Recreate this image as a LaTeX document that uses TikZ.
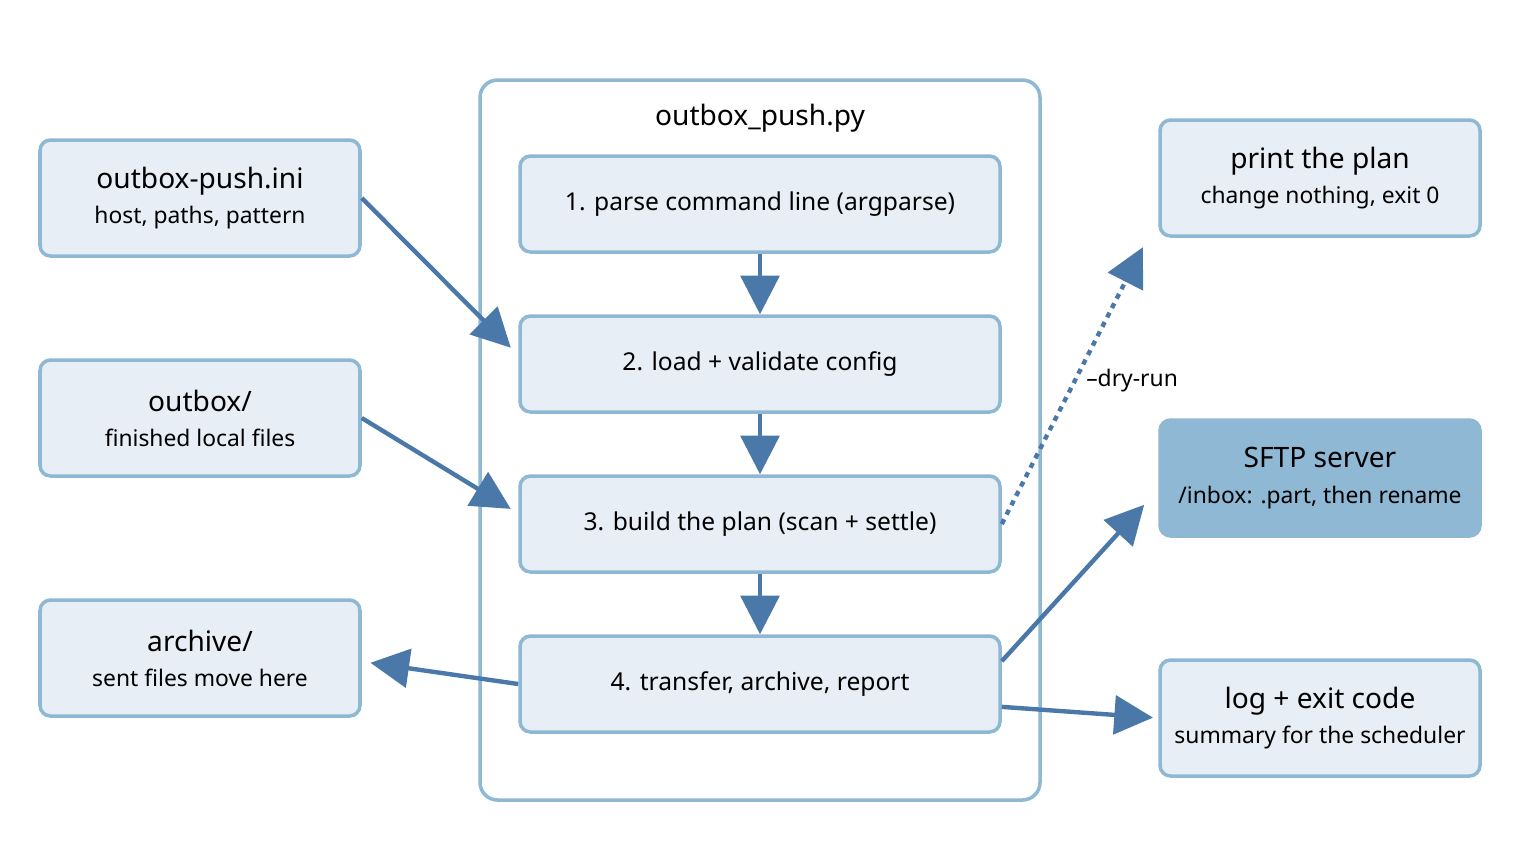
\documentclass[tikz,border=0pt]{standalone}
\usepackage{fontspec}
\setmainfont{Noto Sans}
\usepackage{tikz}
\usetikzlibrary{arrows.meta, positioning}

\definecolor{boxfill}{HTML}{E8EEF6}
\definecolor{boxline}{HTML}{8FB8D4}
\definecolor{arrowblue}{HTML}{4A78A8}

\tikzset{
  box/.style={draw=boxline, fill=boxfill, line width=2pt, rounded corners=6pt,
    minimum width=320*0.02cm, minimum height=116*0.02cm, align=center,
    font=\fontsize{13}{20}\selectfont},
  stepbox/.style={box, minimum width=480*0.02cm, minimum height=96*0.02cm,
    font=\fontsize{14}{18}\selectfont},
  flow/.style={draw=arrowblue, line width=2.5pt,
    -{Triangle[length=22pt,width=22pt]}},
}
\newcommand{\heading}[1]{{\fontsize{16}{20}\selectfont\bfseries #1}}

\begin{document}
\begin{tikzpicture}[x=0.02cm, y=-0.02cm]
\useasboundingbox (0,0) rectangle (1520,860);

\node [draw=boxline, line width=2pt, rounded corners=10pt,
  minimum width=560*0.02cm, minimum height=720*0.02cm] (main) at (760,440) {};
\node (title) at (760,118) {\heading{outbox\_push.py}};

\node [stepbox] (s1) at (760,204) {1. parse command line (argparse)};
\node [stepbox] (s2) at (760,364) {2. load + validate config};
\node [stepbox] (s3) at (760,524) {3. build the plan (scan + settle)};
\node [stepbox] (s4) at (760,684) {4. transfer, archive, report};

\node [box] (ini) at (200,198) {\heading{outbox-push.ini}\\host, paths, pattern};
\node [box] (outbox) at (200,418) {\heading{outbox/}\\finished local files};
\node [box] (archive) at (200,658) {\heading{archive/}\\sent files move here};

\node [box] (plan) at (1320,178) {\heading{print the plan}\\change nothing, exit 0};
\node [box, fill=boxline] (sftp) at (1320,478) {\heading{SFTP server}\\/inbox: .part, then rename};
\node [box] (log) at (1320,718) {\heading{log + exit code}\\summary for the scheduler};

\draw [flow] (s1) -- (s2);
\draw [flow] (s2) -- (s3);
\draw [flow] (s3) -- (s4);

\draw [flow, shorten >=6pt] (ini.east) -- ([yshift=5pt]s2.west);
\draw [flow, shorten >=5pt] (outbox.east) -- ([yshift=6pt]s3.west);
\draw [flow, shorten >=5pt] (s4.west) -- ([yshift=-2pt]archive.east);

\draw [flow, dashed, shorten >=6pt] (s3.east) -- ([xshift=-6pt]plan.south west)
  node [pos=0.5, right, font=\fontsize{13}{16}\selectfont, xshift=2pt] {--dry-run};
\draw [flow, shorten >=3pt] ([yshift=13pt]s4.east) -- ([xshift=-6pt,yshift=-13pt]sftp.west);
\draw [flow, shorten >=3pt] ([yshift=-13pt]s4.east) -- (log.west);

\end{tikzpicture}
\end{document}
